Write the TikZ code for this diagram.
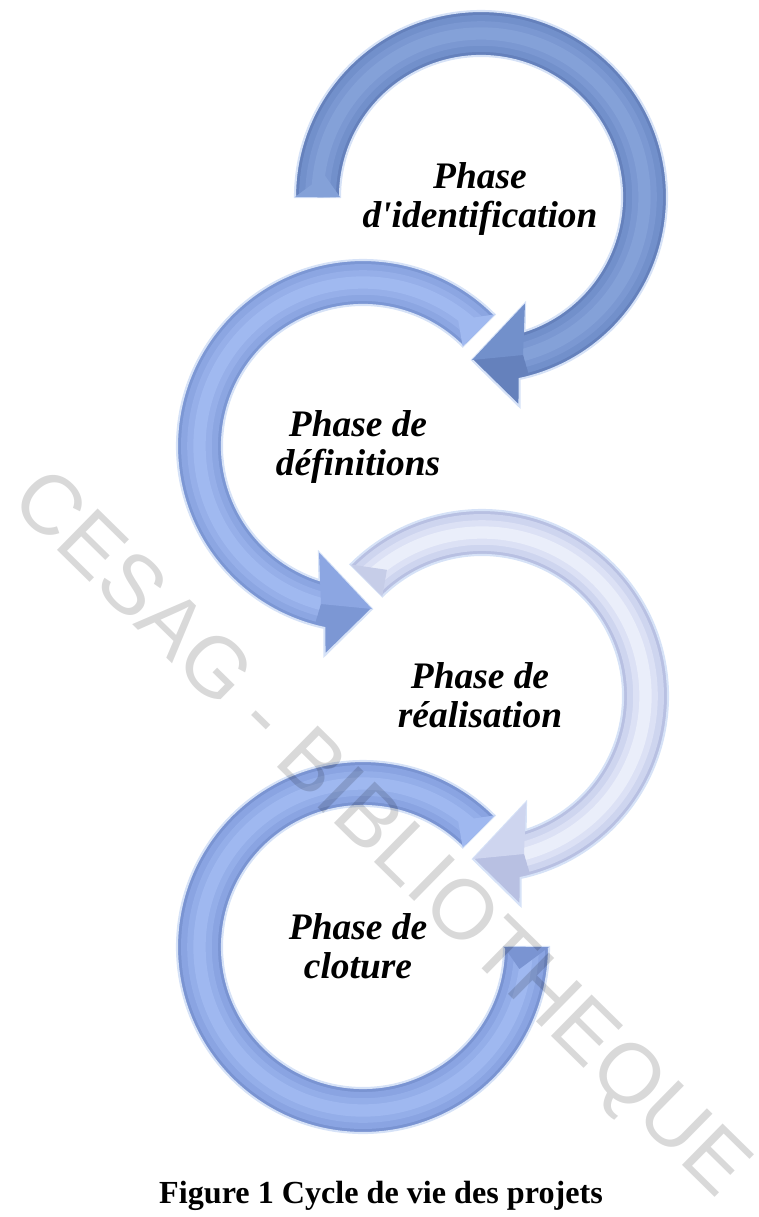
\documentclass[tikz,border=0pt]{standalone}
\usepackage{fontspec}
\setmainfont{Liberation Serif}
\newfontfamily\wmfont{Liberation Sans}
\definecolor{darkone}{RGB}{101,129,188}
\definecolor{midone}{RGB}{114,144,203}
\definecolor{liteone}{RGB}{132,161,216}
\definecolor{darktwo}{RGB}{124,151,212}
\definecolor{midtwo}{RGB}{140,166,226}
\definecolor{litetwo}{RGB}{160,185,240}
\definecolor{darkthree}{RGB}{184,192,226}
\definecolor{midthree}{RGB}{206,213,239}
\definecolor{litethree}{RGB}{234,238,250}
\definecolor{darkfour}{RGB}{122,148,210}
\definecolor{midfour}{RGB}{138,164,226}
\definecolor{litefour}{RGB}{159,184,240}
\definecolor{glow}{RGB}{214,226,247}
\def\bodyband(#1)(#2:#3)#4#5{\draw[shift={(#1)},#4,line width=21pt](#2:163.5) arc (#2:#3:163.5);
	\draw[shift={(#1)},#4!50!#5,line width=14pt](#2:163.5) arc (#2:#3:163.5);
	\draw[shift={(#1)},#5,line width=7pt](#2:163.5) arc (#2:#3:163.5);}

\begin{document}
\begin{tikzpicture}[x=0.02cm, y=-0.02cm,
		phase/.style={align=center, font=\bfseries\itshape\fontsize{21.3}{22.2}\selectfont},
		rim/.style={draw=glow, line width=1.2pt}]
		%%%%% START %%%%%
		\useasboundingbox (0,0) rectangle (758,1217);
		
		% identification
		\fill[darkone, rim, shift={(481,197)}] (180:186) arc (180:438:186) -- (38.5,209.5) -- (-9,163) -- (44,106.5) -- (432:141) arc (432:180:141) -- cycle;
		\bodyband(481,197)(180:435){midone}{liteone}
		\fill[liteone, shift={(481,197)}] (180:186) -- (180:141) -- (188:158) -- cycle;
		\fill[midone, shift={(481,197)}] (-9,163) -- (44,106.5) -- (42,158) -- cycle;
		
		% definitions
		\fill[darktwo, rim, shift={(363,446)}] (315:186) arc (315:102:186) -- (-38.5,209.5) -- (9,163) -- (-44,106.5) -- (108:141) arc (108:315:141) -- cycle;
		\bodyband(363,446)(315:105){midtwo}{litetwo}
		\fill[litetwo, shift={(363,446)}] (315:186) -- (315:141) -- (307:158) -- cycle;
		\fill[midtwo, shift={(363,446)}] (9,163) -- (-44,106.5) -- (-42,158) -- cycle;
		
		% realisation
		\fill[darkthree, rim, shift={(482,696)}] (225:186) arc (225:438:186) -- (38.5,209.5) -- (-9,163) -- (44,106.5) -- (432:141) arc (432:225:141) -- cycle;
		\bodyband(482,696)(225:435){midthree}{litethree}
		\fill[darkthree!80!white, shift={(482,696)}] (225:186) -- (225:141) -- (233:158) -- cycle;
		\fill[midthree, shift={(482,696)}] (-9,163) -- (44,106.5) -- (42,158) -- cycle;
		
		% cloture
		\fill[darkfour, rim, shift={(363,947)}] (315:186) arc (315:0:186) -- (0:141) arc (0:315:141) -- cycle;
		\bodyband(363,947)(315:0){midfour}{litefour}
		\fill[litefour, shift={(363,947)}] (315:186) -- (315:141) -- (307:158) -- cycle;
		\fill[darkfour, shift={(363,947)}] (0:186) -- (0:141) -- (8:158) -- cycle;
		
		\node[phase] (ident) at (480,199) {Phase\\d\textquotesingle identification};
		\node[phase] (defin) at (358,447) {Phase de\\définitions};
		\node[phase] (real) at (480,695) {Phase de\\réalisation};
		\node[phase] (clot) at (358,946) {Phase de\\cloture};
		
		\node[font=\bfseries\fontsize{18.3}{22}\selectfont] (caption) at (381,1196) {Figure 1 Cycle de vie des projets};
		
		\node[rotate=-44.5, text=black, text opacity=0.15, font=\wmfont\fontsize{48}{52}\selectfont] (wmark) at (378,836) {CESAG - BIBLIOTHEQUE};
		
		%%%%% END %%%%%
	\end{tikzpicture}
\end{document}
